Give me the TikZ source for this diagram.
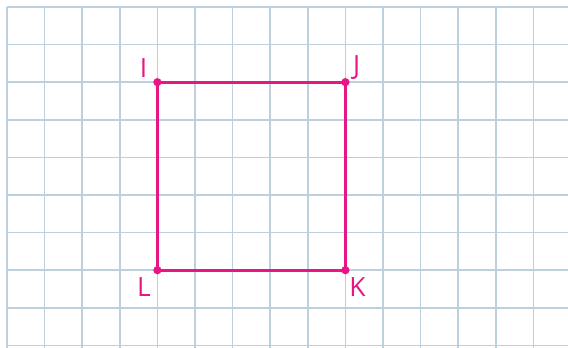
\documentclass[tikz,border=0pt]{standalone}
\usepackage{fontspec}
\setmainfont{Open Sans}
\usepackage{tikz}
\usetikzlibrary{positioning}
\definecolor{gridblue}{RGB}{188,209,221}
\definecolor{squarepink}{RGB}{232,22,132}
\tikzstyle{gridline} = [draw=gridblue, line width=1.3pt]
\tikzstyle{side} = [draw=squarepink, line width=2.2pt]
\tikzstyle{dot} = [circle, fill=squarepink, inner sep=0pt, minimum size=0.22cm]
\tikzstyle{lbl} = [text=squarepink, font=\fontsize{20}{24}\selectfont, inner sep=0pt]

\begin{document}
\begin{tikzpicture}
\useasboundingbox (-0.186,-0.053) rectangle (14.92,9.186);
% Grid
\draw [gridline] (0,-0.2) grid (15.1,9);
% Corners
\node (I) [dot] at (4,7) {};
\node (J) [dot] at (9,7) {};
\node (K) [dot] at (9,2) {};
\node (L) [dot] at (4,2) {};
% Square
\draw [side] (I.center) -- (J.center) -- (K.center) -- (L.center) -- cycle;
% Labels
\node (tI) [lbl] at (3.63,7.38) {I};
\node (tJ) [lbl] at (9.3,7.38) {J};
\node (tK) [lbl] at (9.32,1.55) {K};
\node (tL) [lbl] at (3.64,1.55) {L};
\end{tikzpicture}
\end{document}
